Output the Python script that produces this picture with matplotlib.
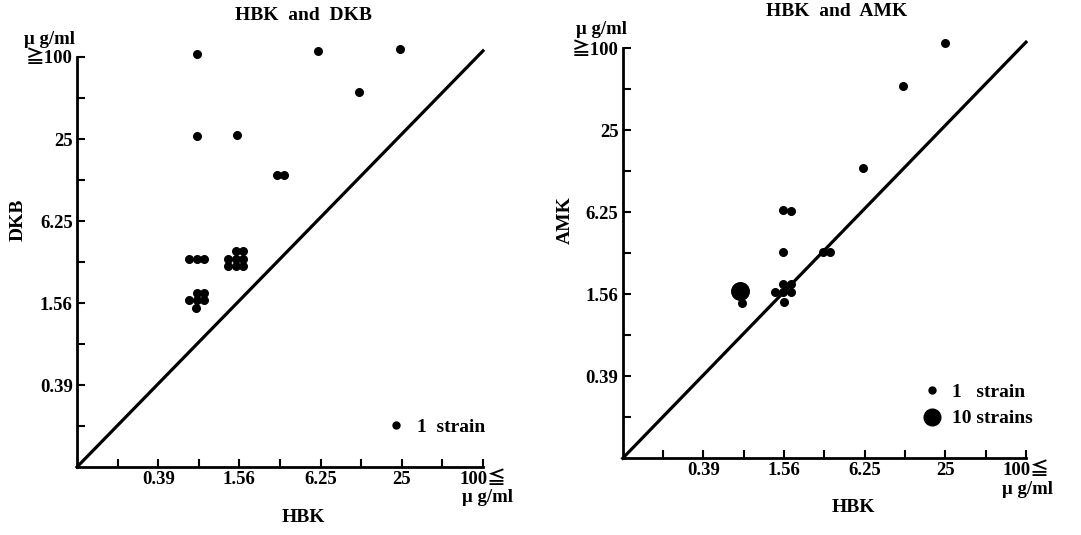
import matplotlib
matplotlib.use("Agg")
import matplotlib.pyplot as plt
from matplotlib.lines import Line2D

plt.rcParams['font.family'] = ['Liberation Serif', 'Noto Sans CJK JP', 'DejaVu Sans']
plt.rcParams['font.weight'] = 'bold'

########################################################
# positions in dilution steps (0 = origin, 10 = >=100 ug/ml)
tick_pos = [1, 2, 3, 4, 5, 6, 7, 8, 9, 10]
x_labels = ['', '0.39', '', '1.56', '', '6.25', '', '25', '', '100≦']
y_labels = ['', '0.39', '', '1.56', '', '6.25', '', '25', '', '≧100']

# HBK vs DKB, one dot = 1 strain
dkb_hbk = [2.95, 5.94, 7.95, 6.94, 2.95, 3.93, 4.92, 5.10,
           2.75, 2.95, 3.13,
           3.92, 4.10, 3.73, 3.92, 4.10, 3.73, 3.92, 4.10,
           2.95, 3.13, 2.75, 2.95, 3.13, 2.93]
dkb_val = [10.08, 10.15, 10.19, 9.15, 8.07, 8.10, 7.11, 7.11,
           5.08, 5.08, 5.08,
           5.28, 5.28, 5.08, 5.08, 5.08, 4.90, 4.90, 4.90,
           4.25, 4.25, 4.07, 4.07, 4.07, 3.89]

# HBK vs AMK
amk_hbk = [7.99, 6.96, 5.95, 3.98, 4.17, 3.98, 4.96, 5.14, 2.95,
           3.98, 4.17, 3.78, 3.98, 4.18, 4.00]
amk_val = [10.12, 9.09, 7.09, 6.06, 6.04, 5.02, 5.04, 5.04, 3.80,
           4.24, 4.24, 4.05, 4.05, 4.05, 3.82]
amk_big_hbk = [2.91]   # 10 strains
amk_big_val = [4.09]

diag_x = [0, 10]
diag_y = [0, 10.15]

W, H = 1081, 535


def setup_panel(ax, titulo, ylab, title_xy, ylab_x, unit_y_xy, unit_x_xy, xlab_xy):
    ax.set_xlim(0, 10)
    ax.set_ylim(0, 10)
    for s in ['top', 'right']:
        ax.spines[s].set_visible(False)
    for s in ['left', 'bottom']:
        ax.spines[s].set_linewidth(2)
    ax.set_xticks(tick_pos)
    ax.set_xticklabels(x_labels)
    ax.set_yticks(tick_pos)
    ax.set_yticklabels(y_labels)
    ax.tick_params(direction='in', length=6, width=1.5, pad=3, labelsize=13.5)
    ax.plot(diag_x, diag_y, color='black', lw=2.3, clip_on=False, zorder=2)

    fig = ax.figure
    fig.text(title_xy[0] / W, 1 - title_xy[1] / H, titulo, ha='center', va='center',
             fontsize=14, fontweight='bold')
    fig.text(ylab_x / W, 1 - 220 / H, ylab, rotation=90, ha='center', va='center',
             fontsize=14, fontweight='bold')
    fig.text(xlab_xy[0] / W, 1 - xlab_xy[1] / H, 'HBK', ha='center', va='center',
             fontsize=14, fontweight='bold')
    fig.text(unit_y_xy[0] / W, 1 - unit_y_xy[1] / H, 'μ g/ml', ha='center', va='center',
             fontsize=13.5, fontweight='bold')
    fig.text(unit_x_xy[0] / W, 1 - unit_x_xy[1] / H, 'μ g/ml', ha='center', va='center',
             fontsize=13.5, fontweight='bold')


fig = plt.figure(figsize=(W / 100, H / 100), dpi=100)

# painel esquerdo
ax1 = fig.add_axes([77 / W, (H - 467) / H, 406 / W, 410 / H])
setup_panel(ax1, 'HBK  and  DKB', 'DKB', (303, 15), 18, (50, 40), (487, 497), (303, 517))
ax1.scatter(dkb_hbk, dkb_val, s=30, color='black', clip_on=False, zorder=3)
h1 = [Line2D([], [], marker='o', ls='', color='black', markersize=5)]
ax1.legend(h1, ['1  strain'], loc='center right', bbox_to_anchor=(1.03, 0.098),
           frameon=False, borderpad=0, handlelength=1.0, handletextpad=0.6,
           prop={'size': 14, 'weight': 'bold'})

# painel direito
ax2 = fig.add_axes([622.7 / W, (H - 458.3) / H, 403.3 / W, 410 / H])
setup_panel(ax2, 'HBK  and  AMK', 'AMK', (837, 11), 565, (602, 30), (1027, 489), (853, 508))
ax2.scatter(amk_hbk, amk_val, s=30, color='black', clip_on=False, zorder=3)
ax2.scatter(amk_big_hbk, amk_big_val, s=160, color='black', clip_on=False, zorder=3)
h2 = [Line2D([], [], marker='o', ls='', color='black', markersize=5)
      , Line2D([], [], marker='o', ls='', color='black', markersize=12)]
ax2.legend(h2, ['1   strain', '10 strains'], loc='center right', bbox_to_anchor=(1.04, 0.129),
           frameon=False, borderpad=0, handlelength=1.0, handletextpad=0.5,
           labelspacing=0.45, prop={'size': 14, 'weight': 'bold'})

fig.savefig('out.png', dpi=100)
